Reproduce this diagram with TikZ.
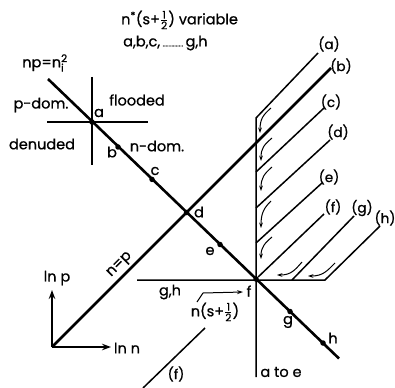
\documentclass[tikz,border=0pt]{standalone}
\usepackage{fontspec}
\setmainfont{Poppins}[FakeBold=0.8]
\usetikzlibrary{arrows.meta}
\newcommand{\hfr}{\ensuremath{\frac{\mbox{\fontsize{10.5}{10.5}\selectfont 1}}{\mbox{\fontsize{10.5}{10.5}\selectfont 2}}}}
\begin{document}
\begin{tikzpicture}[x=1pt,y=-1pt,
  lbl/.style={font=\fontsize{14.5}{16}\selectfont, inner sep=0pt},
  plbl/.style={font=\fontsize{13.5}{15}\selectfont, inner sep=0pt},
  thickln/.style={line width=2.6pt},
  thinln/.style={line width=1.5pt},
  crossln/.style={line width=1.8pt},
  dotpt/.style={circle, fill=black, inner sep=0pt, minimum size=5.5pt},
  flowarr/.style={line width=1pt, -{Stealth[length=5.5pt,width=3.8pt]}},
  axarr/.style={line width=1.6pt, -{Stealth[length=9pt,width=6.5pt]}}
]
\useasboundingbox (0,0) rectangle (395,387);
% key points
\coordinate (L0) at (48,79);
\coordinate (L1) at (339,358.5);
\coordinate (O) at (52,347);
\coordinate (B1) at (331,68);
\node[dotpt] (pa) at (92,122) {};
\node[dotpt] (pb) at (118,147) {};
\node[dotpt] (pc) at (152,179.4) {};
\node[dotpt] (pd) at (186.5,212.5) {};
\node[dotpt] (pe) at (220,244.5) {};
\node[dotpt] (pf) at (256,279) {};
\node[dotpt] (pg) at (290,311.5) {};
\node[dotpt] (ph) at (323,343) {};
% main lines
\draw[thickln] (L0) -- (L1);
\draw[thickln] (O) -- (B1);
% cross at a
\coordinate (cxT) at (92,77);
\coordinate (cxB) at (92,165);
\coordinate (cxL) at (47,122);
\coordinate (cxR) at (148,122);
\draw[crossln] (cxT) -- (cxB);
\draw[crossln] (cxL) -- (cxR);
% vertical & horizontal lines
\coordinate (A0) at (256,118);
\coordinate (A1) at (318,53);
\coordinate (Vb) at (256,377);
\coordinate (Hl) at (137,280);
\coordinate (H0) at (325,280);
\coordinate (H1) at (380,226);
\coordinate (C0) at (256,172);
\coordinate (C1) at (324,108);
\coordinate (D0) at (256,208);
\coordinate (D1) at (330,140);
\coordinate (E0) at (256,243);
\coordinate (E1) at (322,183);
\coordinate (F1) at (324,214);
\coordinate (G0) at (292,280);
\coordinate (G1) at (354,216);
\coordinate (Fl0) at (205,328);
\coordinate (Fl1) at (143,388);
\draw[thinln] (A1) -- (A0) -- (Vb);
\draw[thinln] (Hl) -- (H0) -- (H1);
\draw[thinln] (C0) -- (C1);
\draw[thinln] (D0) -- (D1);
\draw[thinln] (E0) -- (E1);
\draw[thinln] (pf) -- (F1);
\draw[thinln] (G0) -- (G1);
\draw[thinln] (Fl0) -- (Fl1);
% flow arrows (vertical)
\draw[flowarr] (271,108) .. controls (263,115) and (260,119) .. (260,133);
\draw[flowarr] (272,138) .. controls (264,145) and (261,148) .. (261,161);
\draw[flowarr] (272,167) .. controls (264,174) and (261,178) .. (261,191);
\draw[flowarr] (271,201) .. controls (264,208) and (261,213) .. (261,228);
\draw[flowarr] (272,237) .. controls (265,243) and (261,247) .. (261,259);
% flow arrows (horizontal)
\draw[flowarr] (302,262) .. controls (295,270) and (291,275) .. (277,275);
\draw[flowarr] (335,263) .. controls (327,271) and (323,276) .. (308,276);
% axes
\coordinate (axP) at (52,290);
\coordinate (axN) at (111,347);
\draw[axarr] (O) -- (axP);
\draw[axarr] (O) -- (axN);
% leader arrow to f
\coordinate (ld0) at (197,302);
\coordinate (ld1) at (203,293);
\coordinate (ld2) at (243,292);
\draw[line width=1pt, -{Stealth[length=6pt,width=4pt]}] (ld0) -- (ld1) -- (ld2);
% labels
\node[lbl, anchor=west] (t1) at (121,20) {n\textsuperscript{*}(s+\hfr) variable};
\node[lbl, anchor=west] (t2) at (123,43) {a,b,c,\,{\fontsize{7}{7}\selectfont ..............}\,g,h};
\node[lbl] (lnp) at (45,63) {np=n$^{\mbox{\fontsize{10.5}{10.5}\selectfont 2}}_{\mbox{\fontsize{10.5}{10.5}\selectfont i}}$};
\node[lbl] (lpd) at (41,105) {p-dom.};
\node[lbl] (lfl) at (137,100) {flooded};
\node[lbl] (la) at (99,113) {a};
\node[lbl] (lde) at (42,144) {denuded};
\node[lbl] (lb) at (112,152) {b};
\node[lbl] (lnd) at (157,146) {n-dom.};
\node[lbl] (lc) at (155,171) {c};
\node[lbl] (ld) at (199,212) {d};
\node[lbl] (le) at (210,251) {e};
\node[lbl] (lg) at (288,322) {g};
\node[lbl] (lh) at (333,338) {h};
\node[lbl] (lgh) at (170,292) {g,h};
\node[lbl] (lns) at (215,312) {n(s+\hfr)};
\node[lbl] (lf) at (249,291) {f};
\node[lbl, rotate=45] (lnp2) at (120,265) {n=p};
\node[lbl] (llnp) at (57,278) {ln p};
\node[lbl] (llnn) at (127,348) {ln n};
\node[lbl] (late) at (281,372) {a to e};
\node[plbl] (Pa) at (329,44) {(a)};
\node[plbl] (Pb) at (341,66) {(b)};
\node[plbl] (Pc) at (331,102) {(c)};
\node[plbl] (Pd) at (338,132) {(d)};
\node[plbl] (Pe) at (329,177) {(e)};
\node[plbl] (Pf) at (333,207) {(f)};
\node[plbl] (Pg) at (362,208) {(g)};
\node[plbl] (Ph) at (385,218) {(h)};
\node[plbl] (Pfl) at (176,374) {(f)};
\end{tikzpicture}
\end{document}
